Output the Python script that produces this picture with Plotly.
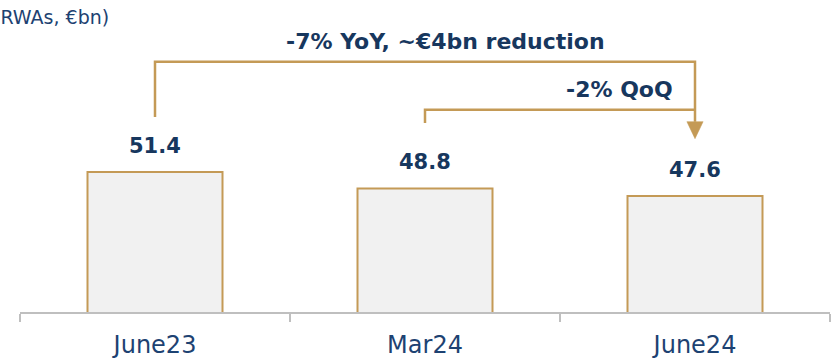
import plotly.graph_objects as go

# ---- data ----
categories = ["June23", "Mar24", "June24"]
values = [51.4, 48.8, 47.6]
value_labels = ["51.4", "48.8", "47.6"]
unit_note = "(RWAs, €bn)"
yoy_text = "-7% YoY, ~€4bn reduction"
qoq_text = "-2% QoQ"

# ---- style ----
NAVY = "#17375E"
NAVY_LIGHT = "#1D4272"
GOLD = "#C49A56"
BAR_FILL = "#F1F1F1"
AXIS_GREY = "#BFBFBF"
FONT = "DejaVu Sans"

W, H = 839, 359
ML, MR, MT, MB = 20, 9, 0, 47
Y_MIN, Y_MAX = 29.2, 78.7

fig = go.Figure()
fig.add_trace(go.Bar(
    x=categories, y=values,
    marker=dict(color=BAR_FILL, line=dict(color=GOLD, width=2)),
    hoverinfo="skip",
))

# value labels
for c, v, t in zip(categories, values, value_labels):
    fig.add_annotation(x=c, y=v, xref="x", yref="y", text=f"<b>{t}</b>",
                       showarrow=False, yanchor="bottom", yshift=12,
                       font=dict(family=FONT, size=21, color=NAVY))

# brackets (data coordinates)
i0, i1, i2 = 0, 1, 2
yoy_top, yoy_start = 68.9, 60.15
qoq_top, qoq_start = 61.3, 59.2
shaft_end, tip = 59.4, 56.7
line = dict(color=GOLD, width=2.5)
fig.add_shape(type="path",
              path=f"M {i0},{yoy_start} L {i0},{yoy_top} L {i2},{yoy_top} L {i2},{shaft_end}",
              xref="x", yref="y", line=line)
fig.add_shape(type="path",
              path=f"M {i1},{qoq_start} L {i1},{qoq_top} L {i2},{qoq_top}",
              xref="x", yref="y", line=line)
hw = 0.03
fig.add_shape(type="path",
              path=f"M {i2-hw},{shaft_end} L {i2+hw},{shaft_end} L {i2},{tip} Z",
              xref="x", yref="y", fillcolor=GOLD, line=dict(color=GOLD, width=0.5))

# texts
fig.add_annotation(x=(445 - ML) / (W - ML - MR), y=(H - MB - 42) / (H - MB - MT),
                   xref="paper", yref="paper", text=f"<b>{yoy_text}</b>",
                   showarrow=False, xanchor="center", yanchor="middle",
                   font=dict(family=FONT, size=22, color=NAVY))
fig.add_annotation(x=(619 - ML) / (W - ML - MR), y=(H - MB - 90) / (H - MB - MT),
                   xref="paper", yref="paper", text=f"<b>{qoq_text}</b>",
                   showarrow=False, xanchor="center", yanchor="middle",
                   font=dict(family=FONT, size=22, color=NAVY))
fig.add_annotation(x=(111 - ML) / (W - ML - MR), y=(H - MB - 17) / (H - MB - MT),
                   xref="paper", yref="paper", text=unit_note,
                   showarrow=False, xanchor="right", yanchor="middle",
                   font=dict(family=FONT, size=19, color=NAVY_LIGHT))

fig.update_layout(
    width=W, height=H,
    margin=dict(l=ML, r=MR, t=MT, b=MB, pad=0),
    paper_bgcolor="white", plot_bgcolor="white",
    showlegend=False, bargap=0.5,
    xaxis=dict(showline=True, linecolor=AXIS_GREY, linewidth=2,
               ticks="outside", tickson="boundaries", ticklen=8,
               tickcolor=AXIS_GREY, tickwidth=2, showgrid=False,
               ticklabelstandoff=10,
               tickfont=dict(family=FONT, size=24, color=NAVY_LIGHT),
               fixedrange=True),
    yaxis=dict(visible=False, range=[Y_MIN, Y_MAX], showgrid=False, fixedrange=True),
)

fig.write_html("out.html")
